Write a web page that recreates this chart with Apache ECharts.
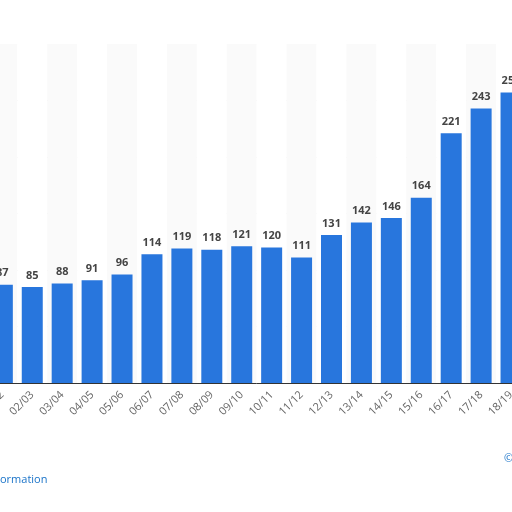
<!DOCTYPE html>
<html><head><meta charset="utf-8">
<script src="https://cdn.jsdelivr.net/npm/echarts@6/dist/echarts.min.js"></script>
<style>html,body{margin:0;padding:0;background:#fff;overflow:hidden;width:512px;height:512px;position:relative}#c{width:550px;height:512px;position:absolute;left:-24px;top:0}#t1{position:absolute;left:0;top:471px;font:11px 'Open Sans';color:#1a73c8}#t2{position:absolute;left:504px;top:450px;font:11px 'Open Sans';color:#1a73c8}</style>
</head><body><div id="c"></div><div id="t1">ormation</div><div id="t2">©</div>
<script>
const categories = ["01/02","02/03","03/04","04/05","05/06","06/07","07/08","08/09","09/10","10/11","11/12","12/13","13/14","14/15","15/16","16/17","17/18","18/19"];
const values = [87,85,88,91,96,114,119,118,121,120,111,131,142,146,164,221,243,257];
const valueLabels = ["87","85","88","91","96","114","119","118","121","120","111","131","142","146","164","221","243","257"];
const chart = echarts.init(document.getElementById('c'));
chart.setOption({
  animation:false,
  backgroundColor:'transparent',
  grid:{left:0,right:0,top:44,bottom:129,containLabel:false},
  xAxis:{type:'category',data:categories,
    axisLine:{lineStyle:{color:'#333',width:1}},axisTick:{show:false},
    axisLabel:{rotate:45,color:'#666',fontSize:11,fontFamily:'Open Sans',margin:10,interval:0},
    splitArea:{show:true,areaStyle:{color:['#fafafa','#ffffff']}}},
  yAxis:{type:'value',min:0,max:300,interval:50,
    axisLine:{show:false},axisTick:{show:false},axisLabel:{show:false},
    splitLine:{lineStyle:{color:['#ddd','#ddd','#ddd','#ddd','#ddd','#ddd','#fff'],type:'dotted'}}},
  series:[{type:'bar',data:values,barWidth:21,itemStyle:{color:'#2876dd'},
    label:{show:true,position:'top',color:'#444',fontWeight:'bold',fontSize:11,fontFamily:'Open Sans',distance:6,
      formatter:p=>valueLabels[p.dataIndex]}}]
});
</script></body></html>
